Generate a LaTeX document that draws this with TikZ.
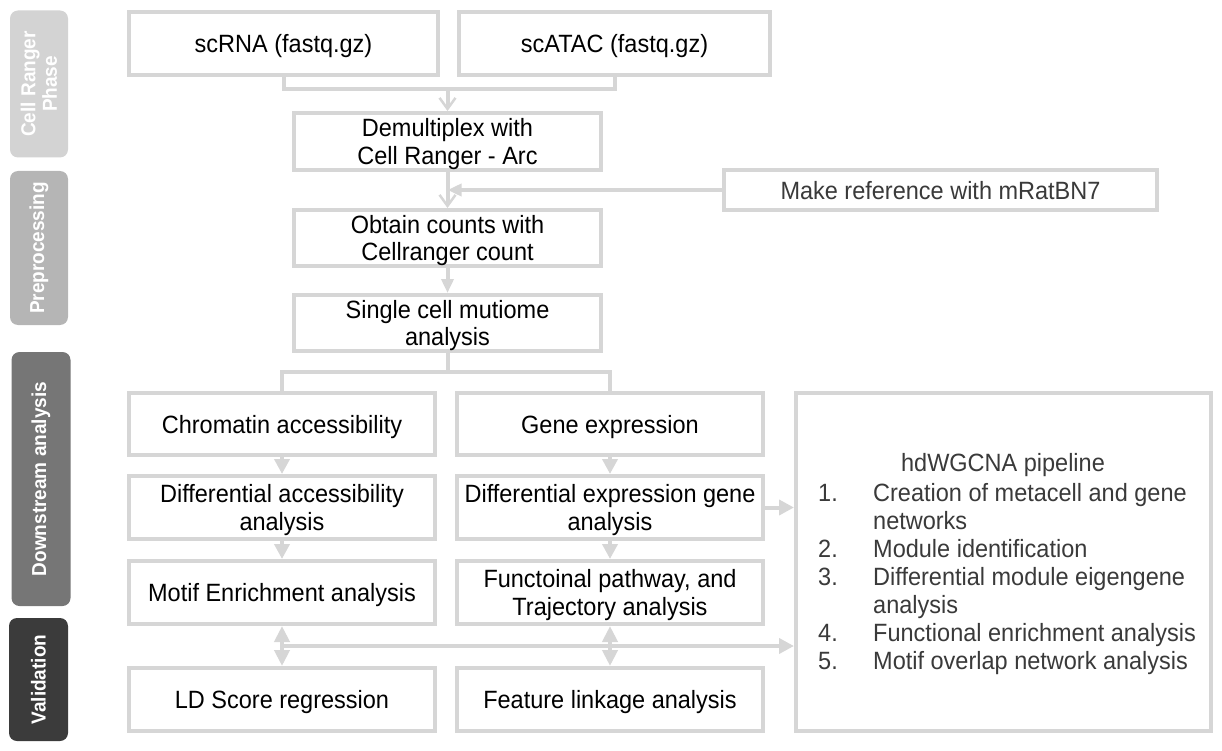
\documentclass[tikz,border=0pt]{standalone}
\usepackage{fontspec}
\setmainfont{Liberation Sans}[FakeStretch=0.94]
\usetikzlibrary{arrows.meta}
\definecolor{edgegray}{HTML}{D6D6D6}
\definecolor{sbA}{HTML}{D3D3D3}
\definecolor{sbB}{HTML}{B5B5B5}
\definecolor{sbC}{HTML}{767676}
\definecolor{sbD}{HTML}{3B3B3B}
\definecolor{txtgray}{HTML}{3A3A3A}
\newcommand\myfs{\fontsize{25}{27.6}\selectfont}
\newcommand\mysidefs{\fontsize{20.2}{21.5}\selectfont\bfseries}
\begin{document}
\begin{tikzpicture}[x=1pt,y=-1pt,
  box/.style={draw=edgegray, line width=4pt, fill=white, align=center, font=\myfs, inner sep=2pt, text depth=0pt},
  side/.style={rounded corners=8pt, text=white, align=center, font=\mysidefs, rotate=90, inner sep=0pt},
  conn/.style={draw=edgegray, line width=4pt},
  tri/.style={conn, -{Triangle[length=15pt,width=15pt]}},
  twotri/.style={conn, {Triangle[length=16pt,width=15pt]}-{Triangle[length=16pt,width=15pt]}},
  narrowtri/.style={conn, -{Triangle[length=14pt,width=12pt]}},
  barb/.style={conn, -{Straight Barb[length=11pt,width=16pt,line width=2.5pt]}}
]
\useasboundingbox (0,0) rectangle (1222,751);
% sidebars
\node[side, fill=sbA, minimum width=147pt, minimum height=58pt] (s1) at (39,84) {Cell Ranger\\Phase};
\node[side, fill=sbB, minimum width=154pt, minimum height=58pt] (s2) at (39,248) {Preprocessing};
\node[side, fill=sbC, minimum width=254pt, minimum height=59pt] (s3) at (41,479) {Downstream analysis};
\node[side, fill=sbD, minimum width=123pt, minimum height=59pt] (s4) at (38.5,679.5) {Validation};
% boxes
\node[box, minimum width=309pt, minimum height=63pt] (rna) at (283.5,43.5) {scRNA (fastq.gz)};
\node[box, minimum width=311pt, minimum height=63pt] (atac) at (614.5,43.5) {scATAC (fastq.gz)};
\node[box, minimum width=307pt, minimum height=57pt] (demux) at (447.5,141.5) {Demultiplex with\\Cell Ranger - Arc};
\node[box, minimum width=433pt, minimum height=40pt, text=txtgray] (ref) at (940.5,190) {Make reference with mRatBN7};
\node[box, minimum width=307pt, minimum height=56pt] (counts) at (447.5,238) {Obtain counts with\\Cellranger count};
\node[box, minimum width=307pt, minimum height=56pt] (single) at (447.5,323) {Single cell mutiome\\analysis};
\node[box, minimum width=306pt, minimum height=62pt] (chrom) at (282,424) {Chromatin accessibility};
\node[box, minimum width=306pt, minimum height=62pt] (gene) at (610,424) {Gene expression};
\node[box, minimum width=306pt, minimum height=63pt] (diffacc) at (282,507.5) {Differential accessibility\\analysis};
\node[box, minimum width=306pt, minimum height=63pt] (diffexp) at (610,507.5) {Differential expression gene\\analysis};
\node[box, minimum width=306pt, minimum height=63pt] (motif) at (282,592.5) {Motif Enrichment analysis};
\node[box, minimum width=306pt, minimum height=63pt] (func) at (610,592.5) {Functoinal pathway, and\\Trajectory analysis};
\node[box, minimum width=306pt, minimum height=63pt] (ld) at (282,699.5) {LD Score regression};
\node[box, minimum width=306pt, minimum height=63pt] (feat) at (610,699.5) {Feature linkage analysis};
\node[box, minimum width=415pt, minimum height=338pt] (hd) at (1003.5,562) {};
% hdWGCNA text
\node[anchor=base, font=\myfs, text=txtgray, inner sep=0pt] (hdtitle) at (1003,471) {hdWGCNA pipeline};
\node[anchor=base west, font=\myfs, text=txtgray, inner sep=0pt] (hdlist) at (818,501) {%
\renewcommand{\arraystretch}{1.0}%
\fontsize{25}{28}\selectfont
\begin{tabular}[t]{@{}p{55pt}@{}l@{}}
1. & Creation of metacell and gene\\
   & networks\\
2. & Module identification\\
3. & Differential module eigengene\\
   & analysis\\
4. & Functional enrichment analysis\\
5. & Motif overlap network analysis
\end{tabular}};
% connectors
\coordinate (merge) at (447.5,89);
\draw[conn] (rna.south) |- (merge) -| (atac.south);
\draw[barb] (merge) -- (demux.north);
\draw[barb] (demux.south) -- (counts.north);
\draw[narrowtri] (ref.west) -- (ref.west -| demux.south);
\draw[narrowtri] (counts.south) -- (single.north);
\coordinate (split) at (447.5,372);
\draw[conn] (single.south) -- (split);
\draw[conn] (chrom.north) |- (split) -| (gene.north);
\draw[tri] (chrom.south) -- (diffacc.north);
\draw[tri] (diffacc.south) -- (motif.north);
\draw[tri] (gene.south) -- (diffexp.north);
\draw[tri] (diffexp.south) -- (func.north);
\draw[tri] (diffexp.east) -- (diffexp.east -| hd.west);
\draw[twotri] (motif.south) -- (ld.north);
\draw[twotri] (func.south) -- (feat.north);
\coordinate (hline) at (282,646);
\draw[tri] (hline) -- (hline -| hd.west);
\end{tikzpicture}
\end{document}
